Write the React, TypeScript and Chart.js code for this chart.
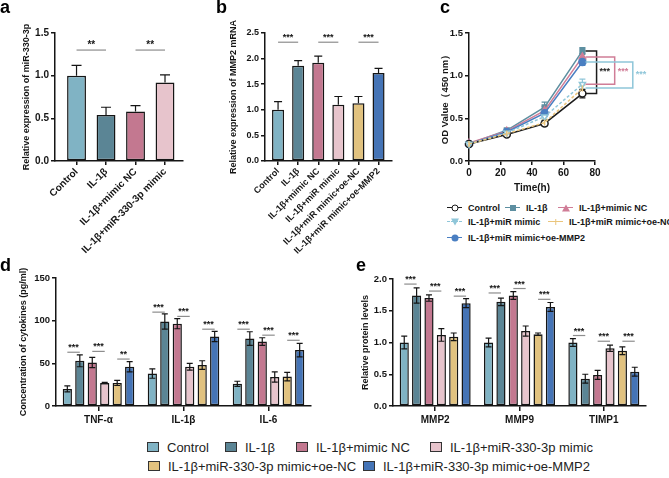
import React, { useEffect, useRef } from "react";
import { Chart, registerables } from "chart.js";

Chart.register(...registerables);

const FONT = '"Liberation Sans", Arial, Helvetica, sans-serif';
const INK = "#151515";

// ---------------- colours ----------------
const COL_CONTROL = "#80b3c4";
const COL_IL1B = "#5b8595";
const COL_MIMICNC = "#c37890";
const COL_MIR = "#e7c4cc";
const COL_OENC = "#e1c27f";
const COL_OEMMP2 = "#4574b6";

const LINE_CONTROL = "#1c1c1c";
const LINE_IL1B = "#5d8fa1";
const LINE_MIMICNC = "#d07d97";
const LINE_MIR = "#8fc6d9";
const LINE_OENC = "#eac57c";
const LINE_OEMMP2 = "#4a7fc2";

// ---------------- panel a ----------------
const aLabels = ["Control", "IL-1β", "IL-1β+mimic NC", "IL-1β+miR-330-3p mimic"];
const aValues = [1.0, 0.54, 0.58, 0.92];
const aSD = [0.12, 0.09, 0.07, 0.09];
const aSig: [number, number, number, string][] = [
  [0, 1, 1.3, "**"],
  [2, 3, 1.3, "**"],
];

// ---------------- panel b ----------------
const bLabels = [
  "Control",
  "IL-1β",
  "IL-1β+mimic NC",
  "IL-1β+miR mimic",
  "IL-1β+miR mimic+oe-NC",
  "IL-1β+miR mimic+oe-MMP2",
];
const bValues = [1.0, 1.86, 1.92, 1.1, 1.13, 1.72];
const bSD = [0.16, 0.1, 0.13, 0.16, 0.13, 0.09];
const bSig: [number, number, number, string][] = [
  [0, 1, 2.32, "***"],
  [2, 3, 2.32, "***"],
  [4, 5, 2.32, "***"],
];

// ---------------- panel c ----------------
const cTimes = [0, 24, 48, 72];
const cTimeTicks = [0, 20, 40, 60, 80];
const cControl = [0.2, 0.31, 0.44, 0.79];
const cControlSD = [0.01, 0.02, 0.03, 0.05];
const cIL1B = [0.2, 0.36, 0.63, 1.29];
const cIL1BSD = [0.01, 0.02, 0.06, 0.04];
const cMimicNC = [0.21, 0.35, 0.59, 1.22];
const cMimicNCSD = [0.01, 0.02, 0.05, 0.04];
const cMiRMimic = [0.2, 0.33, 0.52, 0.9];
const cMiRMimicSD = [0.01, 0.02, 0.04, 0.06];
const cOeNC = [0.2, 0.32, 0.45, 0.85];
const cOeNCSD = [0.01, 0.02, 0.04, 0.04];
const cOeMMP2 = [0.2, 0.34, 0.56, 1.16];
const cOeMMP2SD = [0.01, 0.02, 0.04, 0.04];
// brackets: top value, bottom value, left time, right time, star value, colour
const cBrackets: [number, number, number, number, number, string][] = [
  [1.29, 0.79, 74, 81, 1.07, LINE_CONTROL],
  [1.22, 0.9, 74, 92.5, 1.07, LINE_MIMICNC],
  [1.16, 0.855, 74, 104, 1.04, LINE_MIR],
];

// ---------------- panel d ----------------
const dCategories = ["TNF-α", "IL-1β", "IL-6"];
const dControl = [20, 38, 26];
const dControlSD = [3.5, 5.5, 3];
const dIL1B = [53, 99, 79];
const dIL1BSD = [7, 9, 8];
const dMimicNC = [51, 96.5, 75.5];
const dMimicNCSD = [6, 6, 4.5];
const dMiRMimic = [27, 46, 34];
const dMiRMimicSD = [0.8, 4, 6];
const dOeNC = [27, 48, 34.5];
const dOeNCSD = [3, 5, 5];
const dOeMMP2 = [46, 81.5, 65.5];
const dOeMMP2SD = [6, 6, 8];
// [category, seriesA, seriesB, y, text]
const dSig: [number, number, number, number, string][] = [
  [0, 0, 1, 63, "***"],
  [0, 2, 3, 64, "***"],
  [0, 4, 5, 55, "**"],
  [1, 0, 1, 110, "***"],
  [1, 2, 3, 105, "***"],
  [1, 4, 5, 90, "***"],
  [2, 0, 1, 90, "***"],
  [2, 2, 3, 83, "***"],
  [2, 4, 5, 77, "***"],
];

// ---------------- panel e ----------------
const eCategories = ["MMP2", "MMP9", "TIMP1"];
const eControl = [1.0, 1.0, 1.0];
const eControlSD = [0.1, 0.07, 0.06];
const eIL1B = [1.74, 1.64, 0.43];
const eIL1BSD = [0.12, 0.06, 0.07];
const eMimicNC = [1.7, 1.74, 0.49];
const eMimicNCSD = [0.05, 0.06, 0.07];
const eMiRMimic = [1.12, 1.18, 0.91];
const eMiRMimicSD = [0.1, 0.08, 0.05];
const eOeNC = [1.09, 1.13, 0.87];
const eOeNCSD = [0.06, 0.02, 0.06];
const eOeMMP2 = [1.62, 1.56, 0.54];
const eOeMMP2SD = [0.07, 0.07, 0.07];
const eSig: [number, number, number, number, string][] = [
  [0, 0, 1, 1.92, "***"],
  [0, 2, 3, 1.81, "***"],
  [0, 4, 5, 1.73, "***"],
  [1, 0, 1, 1.78, "***"],
  [1, 2, 3, 1.85, "***"],
  [1, 4, 5, 1.68, "***"],
  [2, 0, 1, 1.11, "***"],
  [2, 2, 3, 1.02, "***"],
  [2, 4, 5, 1.02, "***"],
];

const groupNames = [
  "Control",
  "IL-1β",
  "IL-1β+mimic NC",
  "IL-1β+miR-330-3p mimic",
  "IL-1β+miR-330-3p mimic+oe-NC",
  "IL-1β+miR-330-3p mimic+oe-MMP2",
];
const groupColors = [COL_CONTROL, COL_IL1B, COL_MIMICNC, COL_MIR, COL_OENC, COL_OEMMP2];

// ---------------- helpers ----------------
type SigLine = { ds: number; i: number; ds2: number; i2: number; y: number; text: string };

function barDecor(sds: number[][], upOnly: boolean, cap: number, sigs: SigLine[], starSize: number) {
  return {
    id: "barDecor",
    afterDatasetsDraw(chart: any) {
      const ctx = chart.ctx;
      const ys = chart.scales.y;
      ctx.save();
      ctx.strokeStyle = INK;
      ctx.lineWidth = 1.2;
      chart.data.datasets.forEach((_ds: any, di: number) => {
        const meta = chart.getDatasetMeta(di);
        meta.data.forEach((el: any, i: number) => {
          const v = meta.controller.getParsed(i).y;
          const sd = sds[di][i];
          const x = el.x;
          const yTop = ys.getPixelForValue(v + sd);
          const yBot = upOnly ? ys.getPixelForValue(v) : ys.getPixelForValue(v - sd);
          ctx.beginPath();
          ctx.moveTo(x, yTop);
          ctx.lineTo(x, yBot);
          ctx.moveTo(x - cap, yTop);
          ctx.lineTo(x + cap, yTop);
          if (!upOnly) {
            ctx.moveTo(x - cap, yBot);
            ctx.lineTo(x + cap, yBot);
          }
          ctx.stroke();
        });
      });
      ctx.font = `bold ${starSize}px ${FONT}`;
      ctx.textAlign = "center";
      ctx.textBaseline = "alphabetic";
      sigs.forEach((s) => {
        const x1 = chart.getDatasetMeta(s.ds).data[s.i].x;
        const x2 = chart.getDatasetMeta(s.ds2).data[s.i2].x;
        const y = ys.getPixelForValue(s.y);
        ctx.strokeStyle = "#8d8d8d";
        ctx.lineWidth = 1.2;
        ctx.beginPath();
        ctx.moveTo(x1, y);
        ctx.lineTo(x2, y);
        ctx.stroke();
        ctx.fillStyle = INK;
        ctx.fillText(s.text, (x1 + x2) / 2, y - 2);
      });
      ctx.restore();
    },
  };
}

function yAxis(o: {
  max: number;
  step: number;
  decimals: number;
  title: string;
  titleSize: number;
  titlePad: number;
  width: number;
  tickSize: number;
}) {
  return {
    type: "linear",
    min: 0,
    max: o.max,
    border: { display: true, color: INK, width: 1.5 },
    grid: { display: true, drawOnChartArea: false, drawTicks: true, tickLength: 4, color: INK, lineWidth: 1.5 },
    ticks: {
      stepSize: o.step,
      padding: 2,
      color: INK,
      font: { family: FONT, size: o.tickSize, weight: "bold" },
      callback: (v: any) => Number(v).toFixed(o.decimals),
    },
    title: {
      display: true,
      text: o.title,
      color: INK,
      font: { family: FONT, size: o.titleSize, weight: "bold", lineHeight: 1.2 },
      padding: { top: o.titlePad, bottom: 0 },
    },
    afterFit: (s: any) => {
      s.width = o.width;
    },
  };
}

function simpleBarConfig(o: {
  labels: string[];
  values: number[];
  sd: number[];
  colors: string[];
  yMax: number;
  title: string;
  titlePad: number;
  yWidth: number;
  xHeight: number;
  pad: any;
  xMin: number;
  xMax: number;
  tickSize: number;
  xFont: number;
  barPct: number;
  sigs: [number, number, number, string][];
  cap: number;
  starSize: number;
}) {
  const sigs: SigLine[] = o.sigs.map(([a, b, y, text]) => ({ ds: 0, i: a, ds2: 0, i2: b, y, text }));
  return {
    type: "bar",
    data: {
      datasets: [
        {
          data: o.values.map((v, i) => ({ x: i, y: v })),
          backgroundColor: o.colors,
          borderColor: INK,
          borderWidth: 1.5,
          borderSkipped: false,
          barPercentage: o.barPct,
          categoryPercentage: 1,
        },
      ],
    },
    options: {
      animation: false,
      responsive: false,
      devicePixelRatio: 1,
      layout: { padding: o.pad },
      plugins: { legend: { display: false }, tooltip: { enabled: false } },
      scales: {
        x: {
          type: "linear",
          min: o.xMin,
          max: o.xMax,
          offset: false,
          border: { display: true, color: INK, width: 1.5 },
          grid: { display: true, offset: false, drawOnChartArea: false, drawTicks: true, tickLength: 4, color: INK, lineWidth: 1.5 },
          ticks: {
            stepSize: 1,
            includeBounds: false,
            autoSkip: false,
            minRotation: 45,
            maxRotation: 45,
            padding: 1,
            color: INK,
            font: { family: FONT, size: o.xFont, weight: "bold" },
            callback: (v: any) => (Number.isInteger(v) && o.labels[v] !== undefined ? o.labels[v] : ""),
          },
          afterFit: (s: any) => {
            s.height = o.xHeight;
          },
        },
        y: yAxis({
          max: o.yMax,
          step: 0.5,
          decimals: 1,
          title: o.title,
          titleSize: 9,
          titlePad: o.titlePad,
          width: o.yWidth,
          tickSize: o.tickSize,
        }),
      },
    },
    plugins: [barDecor([o.sd], true, o.cap, sigs, o.starSize)],
  };
}

function groupedBarConfig(o: {
  categories: string[];
  series: number[][];
  sds: number[][];
  yMax: number;
  step: number;
  decimals: number;
  title: string;
  titlePad: number;
  yWidth: number;
  xHeight: number;
  pad: any;
  sigs: [number, number, number, number, string][];
}) {
  const sigs: SigLine[] = o.sigs.map(([c, a, b, y, text]) => ({ ds: a, i: c, ds2: b, i2: c, y, text }));
  return {
    type: "bar",
    data: {
      labels: o.categories,
      datasets: o.series.map((vals, k) => ({
        label: groupNames[k],
        data: vals,
        backgroundColor: groupColors[k],
        borderColor: INK,
        borderWidth: 1.5,
        borderSkipped: false,
        barPercentage: 0.74,
        categoryPercentage: 0.88,
      })),
    },
    options: {
      animation: false,
      responsive: false,
      devicePixelRatio: 1,
      layout: { padding: o.pad },
      plugins: { legend: { display: false }, tooltip: { enabled: false } },
      scales: {
        x: {
          type: "category",
          offset: true,
          border: { display: true, color: INK, width: 1.5 },
          grid: { display: true, offset: false, drawOnChartArea: false, drawTicks: true, tickLength: 5, color: INK, lineWidth: 1.5 },
          ticks: {
            padding: 3,
            color: INK,
            maxRotation: 0,
            font: { family: FONT, size: 10, weight: "bold" },
          },
          afterFit: (s: any) => {
            s.height = o.xHeight;
          },
        },
        y: yAxis({
          max: o.yMax,
          step: o.step,
          decimals: o.decimals,
          title: o.title,
          titleSize: 9,
          titlePad: o.titlePad,
          width: o.yWidth,
          tickSize: 9.5,
        }),
      },
    },
    plugins: [barDecor(o.sds, false, 3, sigs, 9)],
  };
}

function lineConfig() {
  const mk = (
    label: string,
    vals: number[],
    color: string,
    pointStyle: string,
    fill: string,
    dashed: boolean,
    radius: number,
    rotation = 0
  ) => ({
    label,
    data: cTimes.map((t, i) => ({ x: t, y: vals[i] })),
    borderColor: color,
    backgroundColor: fill,
    borderWidth: 1.5,
    borderDash: dashed ? [3, 2] : [],
    pointStyle,
    pointRotation: rotation,
    pointRadius: radius,
    pointBorderWidth: 1.5,
    pointBorderColor: color,
    pointBackgroundColor: fill,
    tension: 0,
    clip: false,
  });
  const sds = [cOeNCSD, cMiRMimicSD, cControlSD, cOeMMP2SD, cMimicNCSD, cIL1BSD];
  const brackets = {
    id: "cDecor",
    beforeDatasetsDraw(chart: any) {
      const ctx = chart.ctx;
      const ys = chart.scales.y;
      ctx.save();
      ctx.lineWidth = 1.2;
      chart.data.datasets.forEach((ds: any, di: number) => {
        const meta = chart.getDatasetMeta(di);
        ctx.strokeStyle = ds.borderColor;
        meta.data.forEach((el: any, i: number) => {
          const v = meta.controller.getParsed(i).y;
          const sd = sds[di][i];
          const t = ys.getPixelForValue(v + sd);
          const b = ys.getPixelForValue(v - sd);
          ctx.beginPath();
          ctx.moveTo(el.x, t);
          ctx.lineTo(el.x, b);
          ctx.moveTo(el.x - 3, t);
          ctx.lineTo(el.x + 3, t);
          ctx.moveTo(el.x - 3, b);
          ctx.lineTo(el.x + 3, b);
          ctx.stroke();
        });
      });
      ctx.restore();
    },
    afterDatasetsDraw(chart: any) {
      const ctx = chart.ctx;
      const xs = chart.scales.x;
      const ys = chart.scales.y;
      ctx.save();
      ctx.lineWidth = 1.5;
      ctx.font = `bold 9px ${FONT}`;
      ctx.textAlign = "left";
      ctx.textBaseline = "middle";
      cBrackets.forEach(([top, bot, l, r, sy, color]) => {
        const x1 = xs.getPixelForValue(l);
        const x2 = xs.getPixelForValue(r);
        const y1 = ys.getPixelForValue(top);
        const y2 = ys.getPixelForValue(bot);
        ctx.strokeStyle = color;
        ctx.beginPath();
        ctx.moveTo(x1, y1);
        ctx.lineTo(x2, y1);
        ctx.lineTo(x2, y2);
        ctx.lineTo(x1, y2);
        ctx.stroke();
        ctx.fillStyle = color;
        ctx.fillText("***", x2 + 3, ys.getPixelForValue(sy) + 2);
      });
      ctx.restore();
    },
  };
  return {
    type: "line",
    data: {
      datasets: [
        mk("IL-1β+miR mimic+oe-NC", cOeNC, LINE_OENC, "line", LINE_OENC, true, 3, 90),
        mk("IL-1β+miR mimic", cMiRMimic, LINE_MIR, "triangle", "#ffffff", true, 3.5, 180),
        mk("Control", cControl, LINE_CONTROL, "circle", "#ffffff", false, 3.5),
        mk("IL-1β+miR mimic+oe-MMP2", cOeMMP2, LINE_OEMMP2, "circle", LINE_OEMMP2, false, 3.5),
        mk("IL-1β+mimic NC", cMimicNC, LINE_MIMICNC, "triangle", LINE_MIMICNC, false, 3.8),
        mk("IL-1β", cIL1B, LINE_IL1B, "rect", LINE_IL1B, false, 3.3),
      ],
    },
    options: {
      animation: false,
      responsive: false,
      devicePixelRatio: 1,
      layout: { padding: { top: 33, right: 74, bottom: 0, left: 0 } },
      plugins: { legend: { display: false }, tooltip: { enabled: false } },
      scales: {
        x: {
          type: "linear",
          min: 0,
          max: 80,
          border: { display: true, color: INK, width: 1.5 },
          grid: { display: true, drawOnChartArea: false, drawTicks: true, tickLength: 4, color: INK, lineWidth: 1.5 },
          afterBuildTicks: (s: any) => {
            s.ticks = cTimeTicks.map((v) => ({ value: v }));
          },
          ticks: {
            padding: 2,
            color: INK,
            font: { family: FONT, size: 10, weight: "bold" },
          },
          title: {
            display: true,
            text: "Time(h)",
            color: INK,
            font: { family: FONT, size: 10, weight: "bold", lineHeight: 1.2 },
            padding: { top: 0, bottom: 1 },
          },
          afterFit: (s: any) => {
            s.height = 34;
          },
        },
        y: yAxis({
          max: 1.5,
          step: 0.5,
          decimals: 1,
          title: "OD Value（450 nm）",
          titleSize: 9.5,
          titlePad: 0,
          width: 29,
          tickSize: 9.5,
        }),
      },
    },
    plugins: [brackets],
  };
}

// ---------------- components ----------------
function ChartCanvas(props: { left: number; top: number; width: number; height: number; make: () => any }) {
  const ref = useRef<HTMLCanvasElement | null>(null);
  useEffect(() => {
    if (!ref.current) return;
    const chart = new Chart(ref.current, props.make());
    return () => chart.destroy();
  }, []);
  return (
    <canvas
      ref={ref}
      width={props.width}
      height={props.height}
      style={{ position: "absolute", left: props.left, top: props.top, width: props.width, height: props.height }}
    />
  );
}

function PanelLabel({ text, left, top }: { text: string; left: number; top: number }) {
  return (
    <div
      style={{
        position: "absolute",
        left,
        top,
        fontFamily: FONT,
        fontWeight: "bold",
        fontSize: 18,
        lineHeight: "18px",
        color: "#000",
      }}
    >
      {text}
    </div>
  );
}

function Marker({ shape, color }: { shape: string; color: string }) {
  const base: any = { position: "absolute", left: "50%", top: "50%", transform: "translate(-50%, -50%)" };
  if (shape === "circleOpen")
    return <span style={{ ...base, width: 5, height: 5, borderRadius: "50%", border: `1.5px solid ${color}`, background: "#fff" }} />;
  if (shape === "circle")
    return <span style={{ ...base, width: 7, height: 7, borderRadius: "50%", background: color }} />;
  if (shape === "square") return <span style={{ ...base, width: 6, height: 6, background: color }} />;
  if (shape === "triangle")
    return (
      <span
        style={{ ...base, width: 0, height: 0, borderLeft: "4px solid transparent", borderRight: "4px solid transparent", borderBottom: `7px solid ${color}` }}
      />
    );
  if (shape === "triDown")
    return (
      <span
        style={{ ...base, width: 0, height: 0, borderLeft: "4px solid transparent", borderRight: "4px solid transparent", borderTop: `7px solid ${color}` }}
      />
    );
  return <span style={{ ...base, width: 1.5, height: 6, background: color }} />;
}

function LineLegendItem(p: { left: number; top: number; color: string; dashed?: boolean; shape: string; text: string }) {
  return (
    <div
      style={{
        position: "absolute",
        left: p.left,
        top: p.top - 6,
        height: 12,
        display: "flex",
        alignItems: "center",
        whiteSpace: "nowrap",
        fontFamily: FONT,
        fontWeight: "bold",
        fontSize: 9,
        color: INK,
      }}
    >
      <span style={{ position: "relative", display: "inline-block", width: 15, height: 10, marginRight: 6 }}>
        <span style={{ position: "absolute", left: 0, right: 0, top: 4, borderTop: `1.5px ${p.dashed ? "dashed" : "solid"} ${p.color}` }} />
        <Marker shape={p.shape} color={p.color} />
      </span>
      {p.text}
    </div>
  );
}

function BoxLegendItem(p: { left: number; top: number; color: string; text: string }) {
  return (
    <div
      style={{
        position: "absolute",
        left: p.left,
        top: p.top - 8,
        height: 16,
        display: "flex",
        alignItems: "center",
        whiteSpace: "nowrap",
        fontFamily: '"Liberation Sans Narrow", "Liberation Sans", Arial, sans-serif',
        fontSize: 13,
        color: "#222",
      }}
    >
      <span style={{ display: "inline-block", width: 10, height: 8, border: "1.2px solid #333", background: p.color, marginRight: 8 }} />
      {p.text}
    </div>
  );
}

export default function App() {
  return (
    <div style={{ position: "fixed", left: 0, top: 0, width: 669, height: 478, background: "#fff", overflow: "hidden" }}>
      <ChartCanvas
        left={0}
        top={0}
        width={220}
        height={255}
        make={() =>
          simpleBarConfig({
            labels: aLabels,
            values: aValues,
            sd: aSD,
            colors: groupColors.slice(0, 4),
            yMax: 1.5,
            title: "Relative expression of miR-330-3p",
            titlePad: 21,
            yWidth: 55,
            xHeight: 94,
            pad: { top: 33, right: 37, bottom: 0, left: 0 },
            xMin: -0.73,
            xMax: 3.61,
            tickSize: 10,
            xFont: 10,
            barPct: 0.64,
            sigs: aSig,
            cap: 5,
            starSize: 10,
          })
        }
      />
      <ChartCanvas
        left={220}
        top={0}
        width={220}
        height={255}
        make={() =>
          simpleBarConfig({
            labels: bLabels,
            values: bValues,
            sd: bSD,
            colors: groupColors,
            yMax: 2.5,
            title: "Relative expression of MMP2 mRNA",
            titlePad: 8,
            yWidth: 45,
            xHeight: 94,
            pad: { top: 33, right: 48, bottom: 0, left: 0 },
            xMin: -0.65,
            xMax: 5.67,
            tickSize: 9,
            xFont: 9,
            barPct: 0.6,
            sigs: bSig,
            cap: 4,
            starSize: 9,
          })
        }
      />
      <ChartCanvas left={440} top={0} width={229} height={195} make={lineConfig} />
      <ChartCanvas
        left={0}
        top={255}
        width={330}
        height={175}
        make={() =>
          groupedBarConfig({
            categories: dCategories,
            series: [dControl, dIL1B, dMimicNC, dMiRMimic, dOeNC, dOeMMP2],
            sds: [dControlSD, dIL1BSD, dMimicNCSD, dMiRMimicSD, dOeNCSD, dOeMMP2SD],
            yMax: 150,
            step: 50,
            decimals: 0,
            title: "Concentration of cytokines (pg/ml)",
            titlePad: 18,
            yWidth: 56,
            xHeight: 24,
            pad: { top: 23, right: 19, bottom: 0, left: 0 },
            sigs: dSig,
          })
        }
      />
      <ChartCanvas
        left={330}
        top={255}
        width={339}
        height={175}
        make={() =>
          groupedBarConfig({
            categories: eCategories,
            series: [eControl, eIL1B, eMimicNC, eMiRMimic, eOeNC, eOeMMP2],
            sds: [eControlSD, eIL1BSD, eMimicNCSD, eMiRMimicSD, eOeNCSD, eOeMMP2SD],
            yMax: 2.0,
            step: 0.5,
            decimals: 1,
            title: "Relative protein levels",
            titlePad: 30,
            yWidth: 63,
            xHeight: 24,
            pad: { top: 24, right: 23, bottom: 0, left: 0 },
            sigs: eSig,
          })
        }
      />

      <PanelLabel text="a" left={0} top={-2} />
      <PanelLabel text="b" left={216} top={-2} />
      <PanelLabel text="c" left={440} top={-2} />
      <PanelLabel text="d" left={0} top={256} />
      <PanelLabel text="e" left={356} top={256} />

      <LineLegendItem left={447} top={208} color={LINE_CONTROL} shape="circleOpen" text="Control" />
      <LineLegendItem left={505} top={208} color={LINE_IL1B} shape="square" text="IL-1β" />
      <LineLegendItem left={558} top={208} color={LINE_MIMICNC} shape="triangle" text="IL-1β+mimic NC" />
      <LineLegendItem left={447} top={222} color={LINE_MIR} dashed shape="triDown" text="IL-1β+miR mimic" />
      <LineLegendItem left={548} top={222} color={LINE_OENC} shape="tick" text="IL-1β+miR mimic+oe-NC" />
      <LineLegendItem left={447} top={238} color={LINE_OEMMP2} shape="circle" text="IL-1β+miR mimic+oe-MMP2" />

      <BoxLegendItem left={147} top={447} color={COL_CONTROL} text={groupNames[0]} />
      <BoxLegendItem left={225} top={447} color={COL_IL1B} text={groupNames[1]} />
      <BoxLegendItem left={296} top={447} color={COL_MIMICNC} text={groupNames[2]} />
      <BoxLegendItem left={430} top={447} color={COL_MIR} text={groupNames[3]} />
      <BoxLegendItem left={148} top={466} color={COL_OENC} text={groupNames[4]} />
      <BoxLegendItem left={363} top={466} color={COL_OEMMP2} text={groupNames[5]} />
    </div>
  );
}
